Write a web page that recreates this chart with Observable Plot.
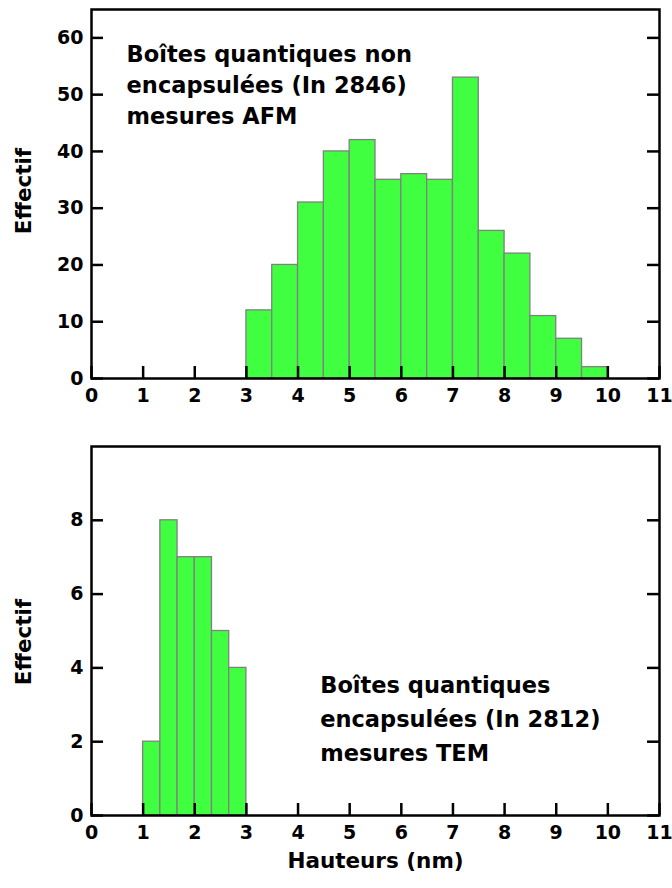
<!DOCTYPE html>
<html><head><meta charset="utf-8">
<script src="https://cdn.jsdelivr.net/npm/d3@7"></script>
<script src="https://cdn.jsdelivr.net/npm/@observablehq/plot@0.6"></script>
<style>
body{margin:0;background:#fff}
svg{display:block}
</style>
</head><body><div id="chart"></div>
<script>
// ---- data ----
const topEdges = [3, 3.5, 4, 4.5, 5, 5.5, 6, 6.5, 7, 7.5, 8, 8.5, 9, 9.5, 10];
const topCounts = [12, 20, 31, 40, 42, 35, 36, 35, 53, 26, 22, 11, 7, 2];
const bottomEdges = [1, 4/3, 5/3, 2, 7/3, 8/3, 3];
const bottomCounts = [2, 8, 7, 7, 5, 4];
const xTicks = [0, 1, 2, 3, 4, 5, 6, 7, 8, 9, 10, 11];
const topYTicks = [0, 10, 20, 30, 40, 50, 60];
const bottomYTicks = [0, 2, 4, 6, 8];
const topNote = "Boîtes quantiques non\nencapsulées (In 2846)\nmesures AFM";
const bottomNote = "Boîtes quantiques\nencapsulées (In 2812)\nmesures TEM";
const yLabel = "Effectif";
const xLabel = "Hauteurs (nm)";

const FONT = "DejaVu Sans";
const W = 672, ML = 91, MR = 13, TL = 12;

function bins(edges, counts) {
  return counts.map((c, i) => ({x1: edges[i], x2: edges[i + 1], n: c}));
}

function panel(o) {
  const frameW = W - ML - MR;
  const frameH = o.height - o.marginTop - o.marginBottom;
  const marks = [
    Plot.rectY(bins(o.edges, o.counts), {x1: "x1", x2: "x2", y1: 0, y2: "n", fill: "#40ff40", stroke: "#808080", strokeWidth: 1.3}),
    Plot.text([o.note], {x: o.noteX, y: o.noteY, text: d => d, textAnchor: "start", lineAnchor: "top", lineHeight: o.noteLH, fontSize: 22.5, fontWeight: "bold", fill: "black", fontFamily: FONT}),
    // inward tick marks (bottom, left, right)
    Plot.tickX(xTicks, {x: d => d, insetTop: frameH - TL, stroke: "black", strokeWidth: 2.5}),
    Plot.tickY(o.yTicks, {y: d => d, insetRight: frameW - TL, stroke: "black", strokeWidth: 2.5}),
    Plot.tickY(o.yTicks, {y: d => d, insetLeft: frameW - TL, stroke: "black", strokeWidth: 2.5}),
    Plot.frame({stroke: "black", strokeWidth: 2.5}),
    Plot.axisX({ticks: xTicks, tickSize: 0, tickPadding: 10, label: null, fontSize: 19, fontWeight: "bold", fontFamily: FONT, fill: "black"}),
    Plot.axisY({ticks: o.yTicks, tickSize: 0, tickPadding: 8, label: null, fontSize: 19, fontWeight: "bold", fontFamily: FONT, fill: "black"}),
    Plot.text([yLabel], {frameAnchor: "left", rotate: -90, lineAnchor: "top", textAnchor: "middle", dx: -76, dy: o.yLabelDy, text: d => d, fontSize: 21.5, fontWeight: "bold", fontFamily: FONT, fill: "black"})
  ];
  if (o.showXLabel) {
    marks.push(Plot.text([xLabel], {frameAnchor: "bottom", lineAnchor: "top", textAnchor: "middle", dy: 37, text: d => d, fontSize: 21.5, fontWeight: "bold", fontFamily: FONT, fill: "black"}));
  }
  return Plot.plot({
    width: W, height: o.height,
    marginLeft: ML, marginRight: MR, marginTop: o.marginTop, marginBottom: o.marginBottom,
    style: {fontFamily: FONT, fontWeight: "bold", fontSize: "19px", color: "black", background: "white", overflow: "visible"},
    x: {domain: [0, 11]},
    y: {domain: o.yDomain},
    marks
  });
}

const chart = document.getElementById("chart");
chart.append(panel({
  edges: topEdges, counts: topCounts, yTicks: topYTicks, yDomain: [0, 65],
  height: 420, marginTop: 9, marginBottom: 42,
  note: topNote, noteX: 0.68, noteY: 59.6, noteLH: 1.38, yLabelDy: -3, showXLabel: false
}));
chart.append(panel({
  edges: bottomEdges, counts: bottomCounts, yTicks: bottomYTicks, yDomain: [0, 10],
  height: 468, marginTop: 26, marginBottom: 73,
  note: bottomNote, noteX: 4.43, noteY: 3.96, noteLH: 1.5, yLabelDy: 11, showXLabel: true
}));
</script>
</body></html>
